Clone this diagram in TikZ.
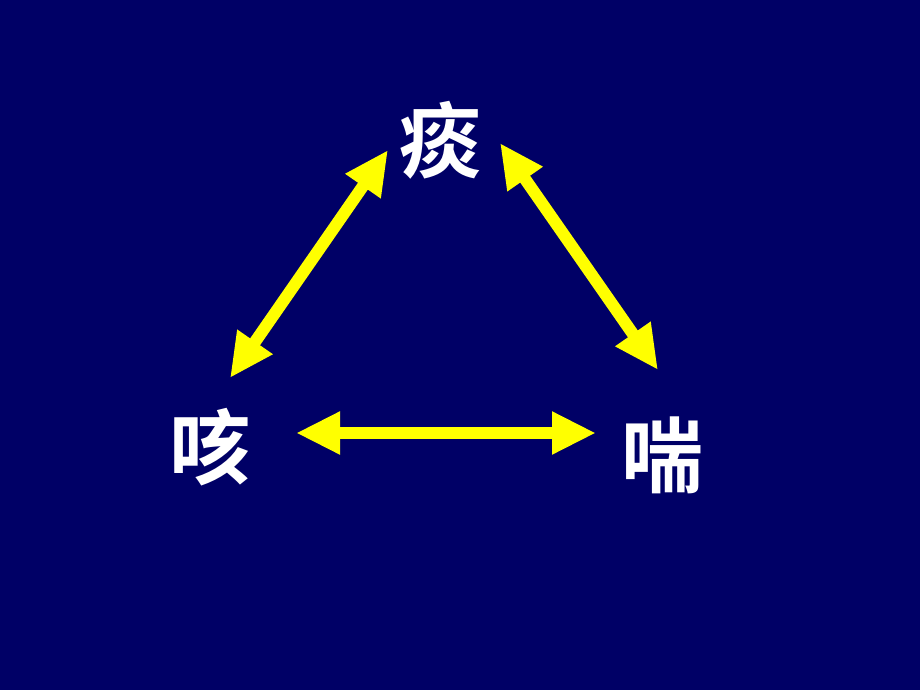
\documentclass[tikz,border=0pt]{standalone}
\usepackage{fontspec}
\newfontfamily\cjk{Noto Sans CJK SC}[BoldFont={* Bold}]
\usetikzlibrary{arrows.meta}
\definecolor{bgnavy}{RGB}{0,0,102}
\definecolor{arrowyellow}{RGB}{255,255,0}
\tikzset{
  sign/.style={text=white, font=\cjk\bfseries\fontsize{82}{82}\selectfont, inner sep=0pt},
  link/.style={draw=arrowyellow, line width=12pt,
    {Triangle[width=40pt,length=44pt]}-{Triangle[width=40pt,length=44pt]}},
}
\begin{document}
\begin{tikzpicture}[x=1pt,y=-1pt]
  \fill[bgnavy] (0,0) rectangle (920,690);
  \useasboundingbox (0,0) rectangle (920,690);

  \node[sign] (tan) at (440,140) {痰};
  \node[sign] (ke) at (210,447) {咳};
  \node[sign] (chuan) at (662,455) {喘};

  \coordinate (tl) at (388,150);
  \coordinate (bl) at (230,378);
  \coordinate (tr) at (500,143);
  \coordinate (br) at (658,370);
  \coordinate (ml) at (296,433);
  \coordinate (mr) at (596,433);

  \draw[link] (bl) -- (tl);
  \draw[link] (tr) -- (br);
  \draw[link] (ml) -- (mr);
\end{tikzpicture}
\end{document}
